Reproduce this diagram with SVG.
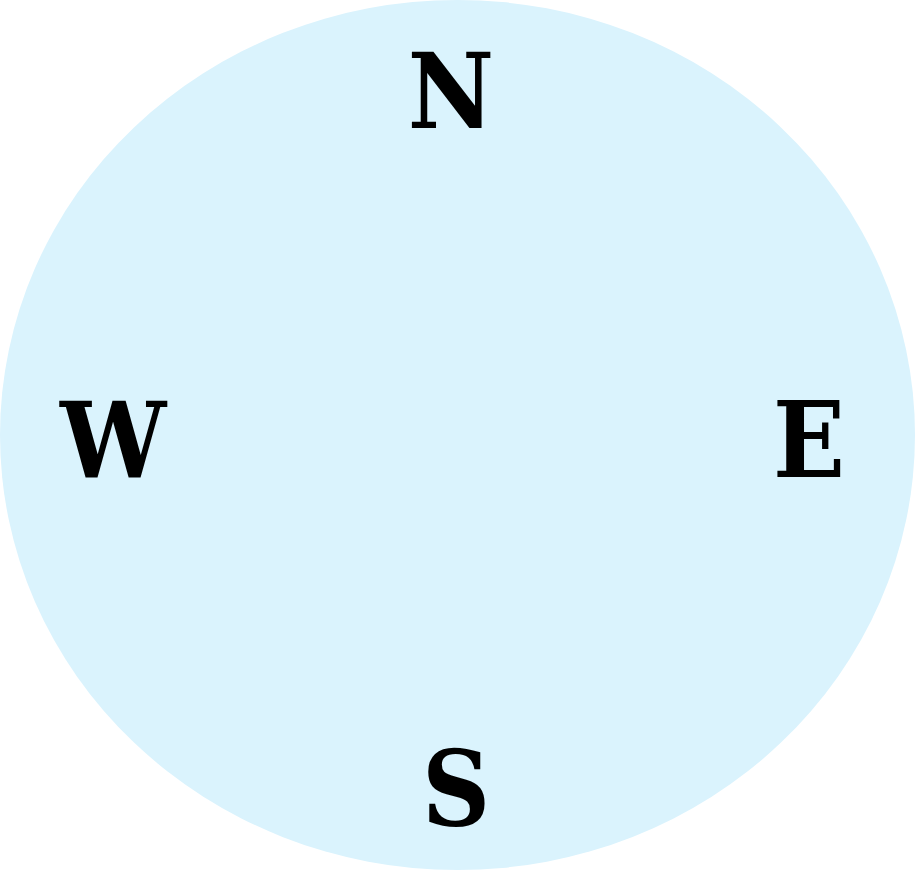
<svg xmlns="http://www.w3.org/2000/svg" width="915" height="870" viewBox="0 0 915 870">
<style>
.lbl{font-family:"DejaVu Serif Condensed","DejaVu Serif","Liberation Serif",serif;font-weight:bold;font-size:105px;fill:#000;text-anchor:middle}
</style>
<rect width="915" height="870" fill="#fff"/>
<g id="compass">
<ellipse cx="457.5" cy="435" rx="457.5" ry="435" fill="#daf3fd"/>
</g>
<g id="north"><text class="lbl" x="451" y="128">N</text></g>
<g id="west"><text class="lbl" x="113" y="477">W</text></g>
<g id="east"><text class="lbl" x="809" y="477">E</text></g>
<g id="south"><text class="lbl" x="456" y="826">S</text></g>
</svg>
